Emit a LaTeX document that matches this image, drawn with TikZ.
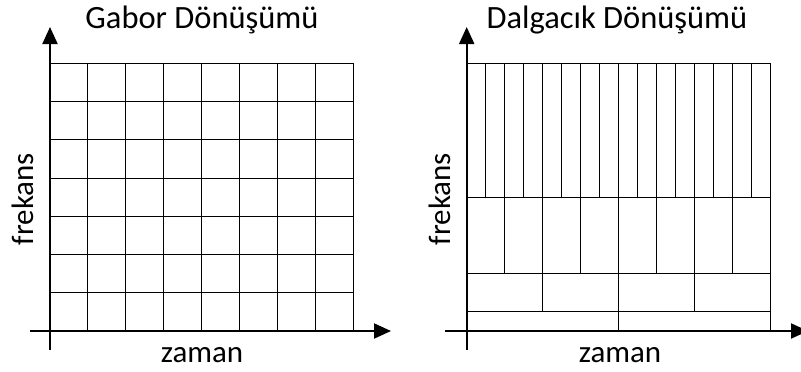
\documentclass[tikz,border=0pt]{standalone}
\usepackage{fontspec}
\setmainfont{Carlito}
\usetikzlibrary{arrows.meta}

\tikzset{
    axis/.style={line width=2pt, -{Triangle[length=17pt,width=15pt]}},
    cell/.style={line width=1pt},
    lbl/.style={font=\fontsize{31}{34}\selectfont, inner sep=0pt},
    ttl/.style={font=\fontsize{32.5}{35}\selectfont, inner sep=0pt}
}

\begin{document}
\begin{tikzpicture}[x=1pt, y=-1pt]
    \useasboundingbox (0,0) rectangle (801,372);

    % Define panel positions
    \def\leftX{50}
    \def\rightX{466.7}
    \def\baseY{331}
    \def\topY{63.3}

    % =========================================================================
    % Panel 1: Gabor
    % =========================================================================
    \foreach \i in {0,...,8}
        \draw[cell] (\leftX+\i*37.9, \topY) -- (\leftX+\i*37.9, \baseY);
    \foreach \j in {0,...,6}
        \draw[cell] (\leftX, \topY+\j*38.24) -- (\leftX+303.2, \topY+\j*38.24);

    % Axes
    \coordinate (gO) at (\leftX, 350);
    \coordinate (gT) at (\leftX, 27);
    \coordinate (gL) at (30, \baseY);
    \coordinate (gR) at (391, \baseY);
    \draw[axis] (gO) -- (gT);
    \draw[axis] (gL) -- (gR);

    \node[ttl, anchor=base] (gtitle) at (202, 28) {Gabor Dönüşümü};
    \node[lbl, anchor=base] (gtime) at (202, 362) {zaman};
    \node[lbl, anchor=base, rotate=90] (gfreq) at (33, 199) {frekans};

    % =========================================================================
    % Panel 2: Dalgacik
    % =========================================================================
    % Band 1 (16 cells)
    \foreach \i in {0,...,16}
        \draw[cell] (\rightX+\i*19, \topY) -- (\rightX+\i*19, 197.7);
    % Band 2 (8 cells)
    \foreach \i in {0,...,8}
        \draw[cell] (\rightX+\i*38, 197.7) -- (\rightX+\i*38, 273.3);
    % Band 3 (4 cells)
    \foreach \i in {0,...,4}
        \draw[cell] (\rightX+\i*76, 273.3) -- (\rightX+\i*76, 311.7);
    % Band 4 (2 cells)
    \foreach \i in {0,...,2}
        \draw[cell] (\rightX+\i*152, 311.7) -- (\rightX+\i*152, \baseY);
    % Horizontal lines
    \foreach \y in {\topY, 197.7, 273.3, 311.7}
        \draw[cell] (\rightX, \y) -- (\rightX+304, \y);

    % Axes
    \coordinate (dO) at (\rightX, 350);
    \coordinate (dT) at (\rightX, 27);
    \coordinate (dL) at (445, \baseY);
    \coordinate (dR) at (808, \baseY);
    \draw[axis] (dO) -- (dT);
    \draw[axis] (dL) -- (dR);

    \node[ttl, anchor=base] (dtitle) at (617, 28) {Dalgacık Dönüşümü};
    \node[lbl, anchor=base] (dtime) at (620, 362) {zaman};
    \node[lbl, anchor=base, rotate=90] (dfreq) at (450, 199) {frekans};

\end{tikzpicture}
\end{document}
